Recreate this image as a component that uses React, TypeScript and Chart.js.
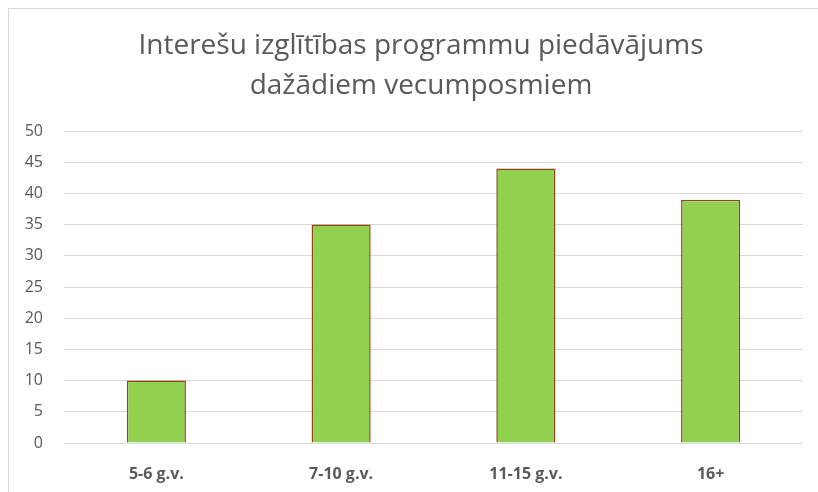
import React, { useEffect, useRef } from "react";
import { Chart, registerables } from "chart.js";

Chart.register(...registerables);

const titleLines = ["Interešu izglītības programmu piedāvājums", "dažādiem vecumposmiem"];
const categories = ["5-6 g.v.", "7-10 g.v.", "11-15 g.v.", "16+"];
const values = [10, 35, 44, 39];
const yMin = 0;
const yMax = 50;
const yStep = 5;

const FONT = "'Open Sans', 'Noto Sans', sans-serif";

const titlePlugin = {
  id: "twoLineTitle",
  afterDraw(chart: any) {
    const ctx = chart.ctx;
    ctx.save();
    ctx.fillStyle = "#595959";
    ctx.font = `normal 28px ${FONT}`;
    ctx.textAlign = "center";
    ctx.textBaseline = "middle";
    const cx = 412;
    titleLines.forEach((line, i) => {
      ctx.fillText(line, cx, 37 + i * 40);
    });
    ctx.restore();
  },
};

export default function App() {
  const ref = useRef<HTMLCanvasElement | null>(null);

  useEffect(() => {
    if (!ref.current) return;
    const chart = new Chart(ref.current, {
      type: "bar",
      data: {
        labels: categories,
        datasets: [
          {
            data: values,
            backgroundColor: "#92d050",
            borderColor: "#8f4518",
            borderWidth: 1.5,
            barPercentage: 0.32,
            categoryPercentage: 1,
          },
        ],
      },
      plugins: [titlePlugin],
      options: {
        responsive: false,
        animation: false,
        layout: { padding: { left: 0, right: 15, top: 122, bottom: 0 } },
        plugins: {
          legend: { display: false },
          tooltip: { enabled: false },
          title: { display: false },
        },
        scales: {
          x: {
            grid: { display: false, drawTicks: false },
            border: { display: false },
            ticks: {
              color: "#595959",
              padding: 22,
              font: { family: FONT, size: 16, weight: "bold" },
            },
            afterFit: (s: any) => {
              s.height = 49;
            },
          },
          y: {
            min: yMin,
            max: yMax,
            grid: { color: "#d9d9d9", lineWidth: 1, drawTicks: false },
            border: { display: false },
            ticks: {
              stepSize: yStep,
              color: "#595959",
              padding: 21,
              font: { family: FONT, size: 16 },
            },
            afterFit: (s: any) => {
              s.width = 55;
            },
          },
        },
      },
    });
    return () => chart.destroy();
  }, []);

  return (
    <div
      style={{
        position: "fixed",
        left: 8,
        top: 8,
        width: 810,
        height: 484,
        boxSizing: "border-box",
        borderLeft: "1px solid #d9d9d9",
        borderTop: "1px solid #d9d9d9",
        background: "#fff",
        overflow: "hidden",
      }}
    >
      <canvas ref={ref} width={809} height={483} style={{ display: "block" }} />
    </div>
  );
}
